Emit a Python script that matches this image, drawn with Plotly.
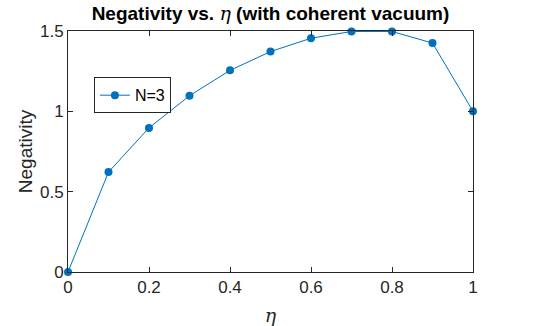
import plotly.graph_objects as go

eta = [0, 0.1, 0.2, 0.3, 0.4, 0.5, 0.6, 0.7, 0.8, 0.9, 1.0]
negativity = [0, 0.622, 0.897, 1.097, 1.255, 1.372, 1.455, 1.497, 1.497, 1.425, 1.0]
x_ticks = [0, 0.2, 0.4, 0.6, 0.8, 1]
x_labels = ["0", "0.2", "0.4", "0.6", "0.8", "1"]
y_ticks = [0, 0.5, 1, 1.5]
y_labels = ["0", "0.5", "1", "1.5"]

ETA = '<span style="font-family:\'DejaVu Serif\'"><i>η</i></span>'
axis_color = "#262626"

fig = go.Figure()
fig.add_trace(
    go.Scatter(
        x=eta,
        y=negativity,
        mode="lines+markers",
        name="N=3",
        line=dict(color="#0072BD", width=1),
        marker=dict(color="#0072BD", size=8),
        cliponaxis=False,
    )
)

common_axis = dict(
    showgrid=False,
    zeroline=False,
    showline=True,
    linecolor=axis_color,
    linewidth=1,
    mirror="ticks",
    ticks="inside",
    ticklen=5,
    tickcolor=axis_color,
    tickfont=dict(family="Liberation Sans, Arial", size=17, color=axis_color),
    automargin=False,
)

fig.update_xaxes(
    range=[0, 1],
    tickvals=x_ticks,
    ticktext=x_labels,
    title=dict(text=ETA, font=dict(size=19, color=axis_color), standoff=17),
    **common_axis,
)
fig.update_yaxes(
    range=[0, 1.5],
    tickvals=y_ticks,
    ticktext=y_labels,
    title=dict(text="Negativity", font=dict(family="Liberation Sans, Arial", size=19, color=axis_color), standoff=2),
    **common_axis,
)

fig.update_layout(
    width=542,
    height=326,
    margin=dict(l=68, r=69, t=31, b=54),
    paper_bgcolor="white",
    plot_bgcolor="white",
    title=dict(
        text="<b>Negativity vs. </b>" + ETA + "<b> (with coherent vacuum)</b>",
        x=0.5,
        xref="paper",
        xanchor="center",
        y=0.96,
        yref="container",
        yanchor="middle",
        font=dict(family="Liberation Sans, Arial", size=19, color="black"),
    ),
    showlegend=True,
    legend=dict(
        x=0.064,
        y=0.808,
        xanchor="left",
        yanchor="top",
        bgcolor="white",
        bordercolor=axis_color,
        borderwidth=1,
        font=dict(family="Liberation Sans, Arial", size=16, color="black"),
        itemwidth=30,
    ),
)

# drop the default 8px page margin so the figure sits at the window's corner
fig.write_html(
    "out.html",
    config={"displayModeBar": False},
    post_script="document.body.style.margin='0';",
)
